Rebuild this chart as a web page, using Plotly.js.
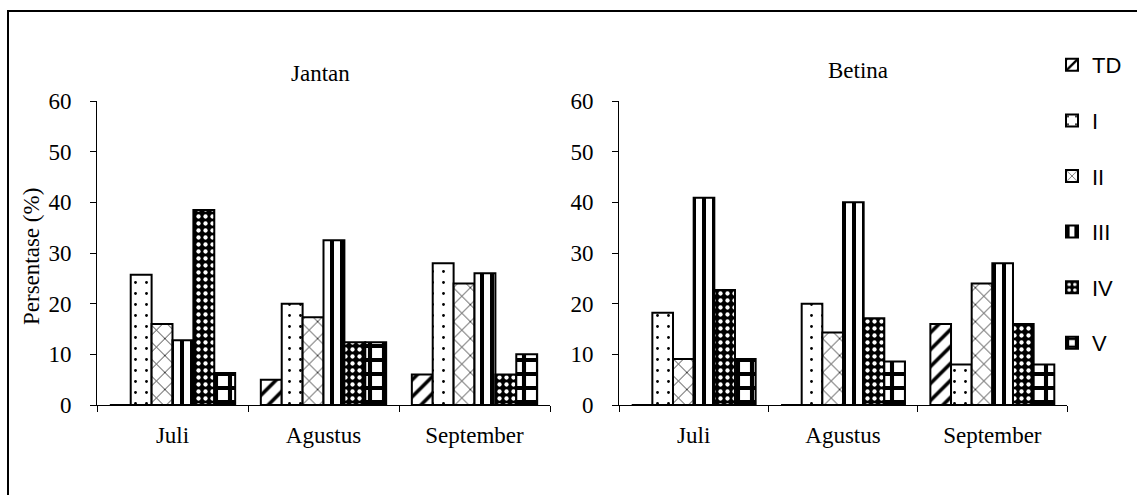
<!DOCTYPE html>
<html>
<head>
<meta charset="utf-8">
<script src="https://cdn.plot.ly/plotly-3.0.1.min.js"></script>
<style>html,body{margin:0;padding:0;background:#fff;}#chart{width:1137px;height:495px;}</style>
</head>
<body>
<div id="chart"></div>
<script>
const months = ["Juli", "Agustus", "September"];
const seriesNames = ["TD", "I", "II", "III", "IV", "V"];
// Jantan (male) percentages, per series, per month
const jantanTD  = [0, 5, 6];
const jantanI   = [25.7, 20, 28];
const jantanII  = [16, 17.3, 24];
const jantanIII = [12.8, 32.5, 26];
const jantanIV  = [38.5, 12.4, 6];
const jantanV   = [6.3, 12.4, 10];
// Betina (female) percentages
const betinaTD  = [0, 0, 16];
const betinaI   = [18.2, 20, 8];
const betinaII  = [9.1, 14.3, 24];
const betinaIII = [40.9, 40, 28];
const betinaIV  = [22.7, 17.1, 16];
const betinaV   = [9.1, 8.6, 8];
const yTicks = [0, 10, 20, 30, 40, 50, 60];

const jantan = [jantanTD, jantanI, jantanII, jantanIII, jantanIV, jantanV];
const betina = [betinaTD, betinaI, betinaII, betinaIII, betinaIV, betinaV];

const patterns = [
  {shape: "/", fgcolor: "#000", bgcolor: "#fff", size: 12, solidity: 0.3},
  {shape: ".", fgcolor: "#000", bgcolor: "#fff", size: 11, solidity: 0.05},
  {shape: "x", fgcolor: "#000", bgcolor: "#fff", size: 12, solidity: 0.12},
  {shape: "|", fgcolor: "#000", bgcolor: "#fff", size: 10, solidity: 0.4},
  {shape: ".", fgcolor: "#fff", bgcolor: "#000", size: 7, solidity: 0.3},
  {shape: "+", fgcolor: "#000", bgcolor: "#fff", size: 14, solidity: 0.5}
];

function makeTrace(name, i, vals, xa, ya, show) {
  return {
    type: "bar", x: months, y: vals, name: name, legendgroup: name,
    xaxis: xa, yaxis: ya, showlegend: show,
    marker: {
      color: patterns[i].bgcolor,
      line: {color: "#000", width: 2},
      pattern: patterns[i]
    }
  };
}

const traces = [];
seriesNames.forEach((name, i) => {
  traces.push(makeTrace(name, i, jantan[i], "x", "y", true));
  traces.push(makeTrace(name, i, betina[i], "x2", "y2", false));
});

const W = 1137, H = 495;
const serif = {family: "Liberation Serif, Times New Roman, serif", size: 23, color: "#000"};
const yAxisBase = {
  range: [0, 60], tickvals: yTicks, ticks: "outside", ticklen: 6, tickcolor: "#000",
  showline: true, linecolor: "#000", linewidth: 1, showgrid: false, zeroline: false,
  tickfont: serif, ticklabelstandoff: 14, fixedrange: true
};
const xAxisBase = {
  type: "category", ticks: "outside", tickson: "boundaries", ticklen: 6, tickcolor: "#000",
  showline: true, linecolor: "#000", linewidth: 1, showgrid: false,
  tickfont: serif, ticklabelstandoff: 9, fixedrange: true
};
const yDom = [(H - 405) / H, (H - 101) / H];

const layout = {
  width: W, height: H, margin: {l: 0, r: 0, t: 0, b: 0},
  paper_bgcolor: "#fff", plot_bgcolor: "rgba(0,0,0,0)",
  barmode: "group", bargap: 0.17, bargroupgap: 0,
  xaxis: Object.assign({}, xAxisBase, {domain: [97 / W, 550 / W], anchor: "y"}),
  yaxis: Object.assign({}, yAxisBase, {domain: yDom, anchor: "x"}),
  xaxis2: Object.assign({}, xAxisBase, {domain: [619 / W, 1067 / W], anchor: "y2"}),
  yaxis2: Object.assign({}, yAxisBase, {domain: yDom, anchor: "x2"}),
  showlegend: true,
  legend: {
    x: 1052 / W, y: 1 - 44 / H, xanchor: "left", yanchor: "top",
    font: {family: "Liberation Sans, Arial, sans-serif", size: 22, color: "#000"},
    traceorder: "grouped", tracegroupgap: 24, itemwidth: 30, bgcolor: "rgba(0,0,0,0)"
  },
  annotations: [
    {text: "Jantan", xref: "paper", yref: "paper", x: 320 / W, y: 1 - 74 / H, showarrow: false, font: serif, xanchor: "center", yanchor: "middle"},
    {text: "Betina", xref: "paper", yref: "paper", x: 858 / W, y: 1 - 70 / H, showarrow: false, font: serif, xanchor: "center", yanchor: "middle"},
    {text: "Persentase (%)", xref: "paper", yref: "paper", x: 31 / W, y: 1 - 257 / H, showarrow: false, textangle: -90,
     font: serif, xanchor: "center", yanchor: "middle"}
  ],
  shapes: [
    {type: "rect", xref: "paper", yref: "paper", x0: 8 / W, y0: -0.1, x1: 1.05, y1: 1 - 11 / H,
     line: {color: "#000", width: 2}, fillcolor: "rgba(0,0,0,0)", layer: "below"}
  ]
};

Plotly.newPlot("chart", traces, layout, {staticPlot: true, displayModeBar: false});
</script>
</body>
</html>
